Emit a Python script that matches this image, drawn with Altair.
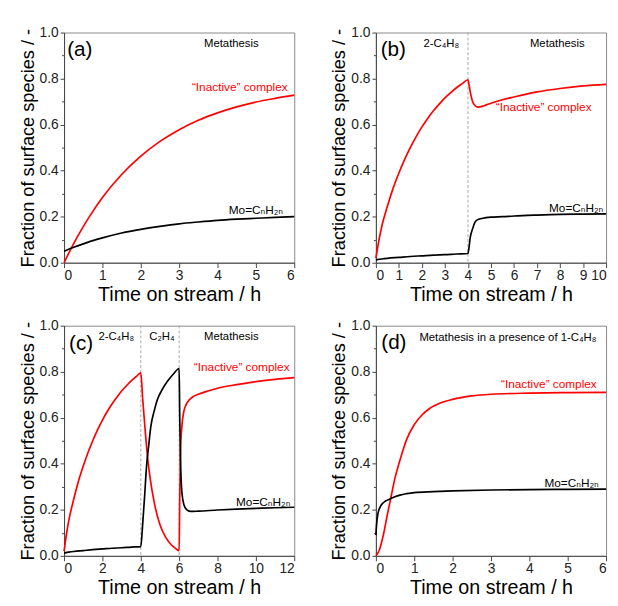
import altair as alt
import pandas as pd

FONT = "Liberation Sans, DejaVu Sans, Arial"
RED = "#ff0000"
BLACK = "#000000"

# ---------------- panel (a) ----------------
a_red_t = [0, 0.25, 0.5, 0.75, 1, 1.5, 2, 2.5, 3, 3.5, 4, 4.5, 5, 5.5, 6]
a_red = [0, 0.083, 0.157, 0.223, 0.283, 0.383, 0.463, 0.527, 0.578, 0.619, 0.651, 0.677, 0.698, 0.714, 0.728]
a_blk_t = [0, 0.25, 0.5, 0.75, 1, 1.5, 2, 2.5, 3, 3.5, 4, 4.5, 5, 5.5, 6]
a_blk = [0.05, 0.067, 0.082, 0.096, 0.108, 0.129, 0.145, 0.158, 0.169, 0.177, 0.184, 0.189, 0.193, 0.197, 0.2]

# ---------------- panel (b) ----------------
b_red_t = [0, 0.05, 0.1, 0.25, 0.5, 0.75, 1, 1.25, 1.5, 1.75, 2, 2.25, 2.5, 2.75, 3, 3.25, 3.5, 3.75, 4,
           4.05, 4.1, 4.2, 4.3, 4.45, 4.7, 5, 5.5, 6, 7, 8, 9, 10]
b_red = [0.02, 0.05, 0.08, 0.155, 0.245, 0.324, 0.39, 0.449, 0.501, 0.548, 0.59, 0.627, 0.66, 0.689, 0.716, 0.739, 0.76, 0.778, 0.795,
         0.77, 0.742, 0.70, 0.683, 0.676, 0.682, 0.693, 0.708, 0.72, 0.742, 0.757, 0.768, 0.775]
b_blk_t = [0, 0.25, 0.5, 1, 1.5, 2, 2.5, 3, 3.5, 4, 4.05, 4.1, 4.2, 4.3, 4.4, 4.6, 5, 5.5, 6, 7, 8, 9, 10]
b_blk = [0.012, 0.016, 0.019, 0.023, 0.027, 0.03, 0.033, 0.035, 0.038, 0.04, 0.07, 0.11, 0.147, 0.175, 0.186, 0.192, 0.198, 0.2, 0.203, 0.207, 0.21, 0.211, 0.212]

# ---------------- panel (c) ----------------
c_red_t = [0, 0.05, 0.1, 0.25, 0.5, 0.75, 1, 1.25, 1.5, 1.75, 2, 2.25, 2.5, 2.75, 3, 3.25, 3.5, 3.75, 4,
           4.1, 4.2, 4.35, 4.5, 4.7, 5, 5.3, 5.6, 5.8, 6,
           6.03, 6.07, 6.15, 6.25, 6.35, 6.5, 6.7, 7, 7.5, 8, 9, 10, 11, 12]
c_red = [0.02, 0.05, 0.08, 0.155, 0.245, 0.324, 0.39, 0.449, 0.501, 0.548, 0.59, 0.627, 0.66, 0.689, 0.716, 0.739, 0.76, 0.778, 0.795,
         0.68, 0.575, 0.43, 0.33, 0.232, 0.135, 0.08, 0.047, 0.033, 0.022,
         0.25, 0.45, 0.57, 0.63, 0.655, 0.675, 0.69, 0.702, 0.716, 0.728, 0.744, 0.757, 0.767, 0.774]
c_blk_t = [0, 0.25, 0.5, 1, 1.5, 2, 2.5, 3, 3.5, 4, 4.1, 4.2, 4.3, 4.4, 4.53, 4.7, 4.87, 5.1, 5.38, 5.7, 6,
           6.03, 6.07, 6.12, 6.2, 6.32, 6.45, 6.6, 7, 8, 9, 10, 11, 12]
c_blk = [0.012, 0.016, 0.019, 0.023, 0.027, 0.03, 0.033, 0.035, 0.038, 0.04, 0.14, 0.26, 0.39, 0.47, 0.566, 0.63, 0.68, 0.72, 0.757, 0.79, 0.814,
         0.6, 0.42, 0.3, 0.24, 0.208, 0.197, 0.193, 0.194, 0.199, 0.203, 0.206, 0.209, 0.211]

# ---------------- panel (d) ----------------
d_red_t = [0, 0.05, 0.1, 0.15, 0.2, 0.3, 0.4, 0.5, 0.6, 0.7, 0.8, 1, 1.2, 1.4, 1.7, 2, 2.5, 3, 4, 5, 6]
d_red = [0, 0.012, 0.03, 0.06, 0.095, 0.18, 0.26, 0.34, 0.4, 0.455, 0.505, 0.57, 0.612, 0.64, 0.665, 0.68, 0.695, 0.702, 0.707, 0.709, 0.71]
d_blk_t = [0, 0.02, 0.05, 0.08, 0.12, 0.16, 0.25, 0.38, 0.5, 0.63, 0.8, 1, 1.5, 2, 3, 4, 5, 6]
d_blk = [0.09, 0.14, 0.18, 0.2, 0.215, 0.225, 0.238, 0.248, 0.257, 0.264, 0.27, 0.275, 0.279, 0.282, 0.286, 0.288, 0.289, 0.29]

# tick labels
y_ticks = [0.0, 0.1, 0.2, 0.3, 0.4, 0.5, 0.6, 0.7, 0.8, 0.9, 1.0]
a_xticks = [0, 1, 2, 3, 4, 5, 6]
b_xticks = [0, 1, 2, 3, 4, 5, 6, 7, 8, 9, 10]
c_xticks = [0, 2, 4, 6, 8, 10, 12]
d_xticks = [0, 1, 2, 3, 4, 5, 6]

# annotations: (t, v, text) -- v is the text baseline
INACT = "\u201cInactive\u201d complex"
MO = "Mo=C\u2099H\u2082\u2099"
a_tag = [(0.08, 0.9, "(a)")]
a_head = [(4.36, 0.937, "Metathesis")]
a_red_lbl = [(4.58, 0.747, INACT)]
a_blk_lbl = [(5.0, 0.213, MO)]

b_tag = [(0.21, 0.9, "(b)")]
b_head = [(2.84, 0.936, "2-C\u2084H\u2088"), (7.88, 0.936, "Metathesis")]
b_red_lbl = [(7.29, 0.657, INACT)]
b_blk_lbl = [(8.7, 0.22, MO)]
b_rules = [4]

c_tag = [(0.26, 0.895, "(c)")]
c_head = [(2.72, 0.936, "2-C\u2084H\u2088"), (5.1, 0.936, "C\u2082H\u2084"), (8.72, 0.936, "Metathesis")]
c_red_lbl = [(9.26, 0.802, INACT)]
c_blk_lbl = [(10.38, 0.215, MO)]
c_rules = [4, 6]

d_tag = [(0.14, 0.9, "(d)")]
d_head = [(3.44, 0.934, "Metathesis in a presence of 1-C\u2084H\u2088")]
d_red_lbl = [(4.51, 0.731, INACT)]
d_blk_lbl = [(5.1, 0.3, MO)]

W = 234
H = 234


def tdf(items):
    return pd.DataFrame(items, columns=["t", "v", "label"])


def panel(red_t, red_v, blk_t, blk_v, xdom, xticks, tag, head, red_lbl, blk_lbl, rules, flush=False):
    xaxis_kw = dict(values=xticks, format="d", title="Time on stream / h", labelOverlap=False)
    if flush:
        xaxis_kw["labelFlush"] = True
    x = alt.X("t:Q", scale=alt.Scale(domain=xdom, nice=False, zero=False), axis=alt.Axis(**xaxis_kw))
    y = alt.Y("v:Q", scale=alt.Scale(domain=[0, 1], nice=False),
              axis=alt.Axis(values=y_ticks, labelOverlap=False,
                            labelExpr="round(datum.value*10) % 2 == 0 ? format(datum.value, '.1f') : ''",
                            tickSize={"condition": {"test": "round(datum.value*10) % 2 == 1", "value": 2.5}, "value": 4},
                            title="Fraction of surface species / -"))
    df = pd.concat([
        pd.DataFrame({"t": red_t, "v": red_v, "s": "inactive"}),
        pd.DataFrame({"t": blk_t, "v": blk_v, "s": "mo"}),
    ])
    layers = []
    if rules:
        layers.append(alt.Chart(pd.DataFrame({"t": rules})).mark_rule(
            color="#aaaaaa", strokeDash=[3, 2], strokeWidth=1).encode(x=x))
    layers.append(alt.Chart(df).mark_line(strokeWidth=1.7, interpolate="monotone").encode(
        x=x, y=y,
        color=alt.Color("s:N", scale=alt.Scale(domain=["inactive", "mo"], range=[RED, BLACK]), legend=None)))
    layers.append(alt.Chart(tdf(tag)).mark_text(fontSize=21, color="#000", font=FONT, align="left",
                                                baseline="alphabetic").encode(x=x, y=y, text="label:N"))
    layers.append(alt.Chart(tdf(head)).mark_text(fontSize=11.5, color="#000", font=FONT,
                                                 baseline="alphabetic").encode(x=x, y=y, text="label:N"))
    layers.append(alt.Chart(tdf(red_lbl)).mark_text(fontSize=12, color=RED, font=FONT,
                                                    baseline="alphabetic").encode(x=x, y=y, text="label:N"))
    layers.append(alt.Chart(tdf(blk_lbl)).mark_text(fontSize=12, color="#000", font=FONT,
                                                    baseline="alphabetic").encode(x=x, y=y, text="label:N"))
    return alt.layer(*layers).properties(width=W, height=H)


pa = panel(a_red_t, a_red, a_blk_t, a_blk, [0, 6], a_xticks, a_tag, a_head, a_red_lbl, a_blk_lbl, [])
pb = panel(b_red_t, b_red, b_blk_t, b_blk, [0, 10], b_xticks, b_tag, b_head, b_red_lbl, b_blk_lbl, b_rules, flush=True)
pc = panel(c_red_t, c_red, c_blk_t, c_blk, [0, 12], c_xticks, c_tag, c_head, c_red_lbl, c_blk_lbl, c_rules)
pd_ = panel(d_red_t, d_red, d_blk_t, d_blk, [0, 6], d_xticks, d_tag, d_head, d_red_lbl, d_blk_lbl, [])

chart = alt.vconcat(
    alt.hconcat(pa, pb, spacing=32),
    alt.hconcat(pc, pd_, spacing=32),
    spacing=13,
).configure(
    font=FONT,
    padding={"left": 10, "top": 12, "right": 0, "bottom": 0},
).configure_view(
    stroke="#888888", strokeWidth=1,
).configure_axis(
    grid=False,
    labelFont=FONT, titleFont=FONT,
    labelFontSize=14, titleFontWeight="normal",
    labelColor="#222222", titleColor="#000000",
    tickColor="#444444", domainColor="#444444",
    titlePadding=2,
).configure_axisX(
    titleFontSize=20, labelPadding=1,
).configure_axisY(
    titleFontSize=18.5, labelPadding=2,
)

chart.save("out.html", embed_options={"renderer": "svg", "actions": False})
